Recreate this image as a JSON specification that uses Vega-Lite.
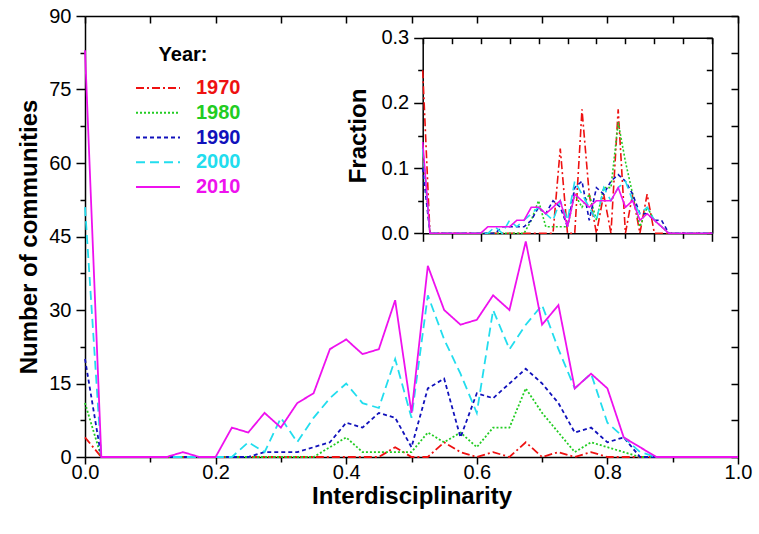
{
"$schema": "https://vega.github.io/schema/vega-lite/v6.json",
"width": 653, "height": 441,
"autosize": {"type": "none"},
"padding": {"left": 85, "top": 16, "right": 21, "bottom": 77},
"background": "white",
"config": {
  "view": {"stroke": null},
  "font": "Liberation Sans",
  "axis": {"domainColor": "black", "tickColor": "black", "labelColor": "black", "titleColor": "black", "grid": false, "domainWidth": 1.5, "tickWidth": 1.5, "labelFont": "Liberation Sans", "titleFont": "Liberation Sans", "labelFlush": false, "labelOverlap": false}
},
"datasets": {"d": [
{"x":0,"year":"1970","n":4,"f":0.25},{"x":0.025,"year":"1970","n":0,"f":0},{"x":0.05,"year":"1970","n":0,"f":0},{"x":0.075,"year":"1970","n":0,"f":0},{"x":0.1,"year":"1970","n":0,"f":0},{"x":0.125,"year":"1970","n":0,"f":0},{"x":0.15,"year":"1970","n":0,"f":0},{"x":0.175,"year":"1970","n":0,"f":0},{"x":0.2,"year":"1970","n":0,"f":0},{"x":0.225,"year":"1970","n":0,"f":0},{"x":0.25,"year":"1970","n":0,"f":0},{"x":0.275,"year":"1970","n":0,"f":0},{"x":0.3,"year":"1970","n":0,"f":0},{"x":0.325,"year":"1970","n":0,"f":0},{"x":0.35,"year":"1970","n":0,"f":0},{"x":0.375,"year":"1970","n":0,"f":0},{"x":0.4,"year":"1970","n":0,"f":0},{"x":0.425,"year":"1970","n":0,"f":0},{"x":0.45,"year":"1970","n":0,"f":0},{"x":0.475,"year":"1970","n":2,"f":0.13},{"x":0.5,"year":"1970","n":0,"f":0},{"x":0.525,"year":"1970","n":0,"f":0},{"x":0.55,"year":"1970","n":3,"f":0.19},{"x":0.575,"year":"1970","n":1,"f":0.06},{"x":0.6,"year":"1970","n":0,"f":0},{"x":0.625,"year":"1970","n":1,"f":0.06},{"x":0.65,"year":"1970","n":0,"f":0},{"x":0.675,"year":"1970","n":3,"f":0.19},{"x":0.7,"year":"1970","n":0,"f":0},{"x":0.725,"year":"1970","n":1,"f":0.06},{"x":0.75,"year":"1970","n":0,"f":0},{"x":0.775,"year":"1970","n":1,"f":0.06},{"x":0.8,"year":"1970","n":0,"f":0},{"x":0.825,"year":"1970","n":0,"f":0},{"x":0.85,"year":"1970","n":0,"f":0},{"x":0.875,"year":"1970","n":0,"f":0},{"x":0.9,"year":"1970","n":0,"f":0},{"x":0.925,"year":"1970","n":0,"f":0},{"x":0.95,"year":"1970","n":0,"f":0},{"x":0.975,"year":"1970","n":0,"f":0},{"x":1,"year":"1970","n":0,"f":0},
{"x":0,"year":"1980","n":11,"f":0.13},{"x":0.025,"year":"1980","n":0,"f":0},{"x":0.05,"year":"1980","n":0,"f":0},{"x":0.075,"year":"1980","n":0,"f":0},{"x":0.1,"year":"1980","n":0,"f":0},{"x":0.125,"year":"1980","n":0,"f":0},{"x":0.15,"year":"1980","n":0,"f":0},{"x":0.175,"year":"1980","n":0,"f":0},{"x":0.2,"year":"1980","n":0,"f":0},{"x":0.225,"year":"1980","n":0,"f":0},{"x":0.25,"year":"1980","n":0,"f":0},{"x":0.275,"year":"1980","n":0,"f":0},{"x":0.3,"year":"1980","n":0,"f":0},{"x":0.325,"year":"1980","n":0,"f":0},{"x":0.35,"year":"1980","n":0,"f":0},{"x":0.375,"year":"1980","n":2,"f":0.02},{"x":0.4,"year":"1980","n":4,"f":0.05},{"x":0.425,"year":"1980","n":1,"f":0.01},{"x":0.45,"year":"1980","n":1,"f":0.01},{"x":0.475,"year":"1980","n":1,"f":0.01},{"x":0.5,"year":"1980","n":1,"f":0.01},{"x":0.525,"year":"1980","n":5,"f":0.06},{"x":0.55,"year":"1980","n":3,"f":0.04},{"x":0.575,"year":"1980","n":5,"f":0.06},{"x":0.6,"year":"1980","n":2,"f":0.02},{"x":0.625,"year":"1980","n":6,"f":0.07},{"x":0.65,"year":"1980","n":6,"f":0.07},{"x":0.675,"year":"1980","n":14,"f":0.17},{"x":0.7,"year":"1980","n":9,"f":0.11},{"x":0.725,"year":"1980","n":5,"f":0.06},{"x":0.75,"year":"1980","n":1,"f":0.01},{"x":0.775,"year":"1980","n":3,"f":0.04},{"x":0.8,"year":"1980","n":2,"f":0.02},{"x":0.825,"year":"1980","n":1,"f":0.01},{"x":0.85,"year":"1980","n":0,"f":0},{"x":0.875,"year":"1980","n":0,"f":0},{"x":0.9,"year":"1980","n":0,"f":0},{"x":0.925,"year":"1980","n":0,"f":0},{"x":0.95,"year":"1980","n":0,"f":0},{"x":0.975,"year":"1980","n":0,"f":0},{"x":1,"year":"1980","n":0,"f":0},
{"x":0,"year":"1990","n":20,"f":0.10},{"x":0.025,"year":"1990","n":0,"f":0},{"x":0.05,"year":"1990","n":0,"f":0},{"x":0.075,"year":"1990","n":0,"f":0},{"x":0.1,"year":"1990","n":0,"f":0},{"x":0.125,"year":"1990","n":0,"f":0},{"x":0.15,"year":"1990","n":0,"f":0},{"x":0.175,"year":"1990","n":0,"f":0},{"x":0.2,"year":"1990","n":0,"f":0},{"x":0.225,"year":"1990","n":0,"f":0},{"x":0.25,"year":"1990","n":0,"f":0},{"x":0.275,"year":"1990","n":1,"f":0.01},{"x":0.3,"year":"1990","n":1,"f":0.01},{"x":0.325,"year":"1990","n":1,"f":0.01},{"x":0.35,"year":"1990","n":2,"f":0.01},{"x":0.375,"year":"1990","n":3,"f":0.02},{"x":0.4,"year":"1990","n":7,"f":0.04},{"x":0.425,"year":"1990","n":6,"f":0.03},{"x":0.45,"year":"1990","n":9,"f":0.05},{"x":0.475,"year":"1990","n":8,"f":0.04},{"x":0.5,"year":"1990","n":2,"f":0.01},{"x":0.525,"year":"1990","n":14,"f":0.07},{"x":0.55,"year":"1990","n":16,"f":0.08},{"x":0.575,"year":"1990","n":4,"f":0.02},{"x":0.6,"year":"1990","n":13,"f":0.07},{"x":0.625,"year":"1990","n":12,"f":0.06},{"x":0.65,"year":"1990","n":15,"f":0.08},{"x":0.675,"year":"1990","n":18,"f":0.09},{"x":0.7,"year":"1990","n":15,"f":0.08},{"x":0.725,"year":"1990","n":11,"f":0.06},{"x":0.75,"year":"1990","n":5,"f":0.03},{"x":0.775,"year":"1990","n":6,"f":0.03},{"x":0.8,"year":"1990","n":3,"f":0.02},{"x":0.825,"year":"1990","n":4,"f":0.02},{"x":0.85,"year":"1990","n":0,"f":0},{"x":0.875,"year":"1990","n":0,"f":0},{"x":0.9,"year":"1990","n":0,"f":0},{"x":0.925,"year":"1990","n":0,"f":0},{"x":0.95,"year":"1990","n":0,"f":0},{"x":0.975,"year":"1990","n":0,"f":0},{"x":1,"year":"1990","n":0,"f":0},
{"x":0,"year":"2000","n":51,"f":0.13},{"x":0.025,"year":"2000","n":0,"f":0},{"x":0.05,"year":"2000","n":0,"f":0},{"x":0.075,"year":"2000","n":0,"f":0},{"x":0.1,"year":"2000","n":0,"f":0},{"x":0.125,"year":"2000","n":0,"f":0},{"x":0.15,"year":"2000","n":0,"f":0},{"x":0.175,"year":"2000","n":0,"f":0},{"x":0.2,"year":"2000","n":0,"f":0},{"x":0.225,"year":"2000","n":0,"f":0},{"x":0.25,"year":"2000","n":3,"f":0.01},{"x":0.275,"year":"2000","n":1,"f":0},{"x":0.3,"year":"2000","n":8,"f":0.02},{"x":0.325,"year":"2000","n":3,"f":0.01},{"x":0.35,"year":"2000","n":8,"f":0.02},{"x":0.375,"year":"2000","n":12,"f":0.03},{"x":0.4,"year":"2000","n":15,"f":0.04},{"x":0.425,"year":"2000","n":11,"f":0.03},{"x":0.45,"year":"2000","n":10,"f":0.02},{"x":0.475,"year":"2000","n":20,"f":0.05},{"x":0.5,"year":"2000","n":8,"f":0.02},{"x":0.525,"year":"2000","n":33,"f":0.08},{"x":0.55,"year":"2000","n":24,"f":0.06},{"x":0.575,"year":"2000","n":17,"f":0.04},{"x":0.6,"year":"2000","n":9,"f":0.02},{"x":0.625,"year":"2000","n":30,"f":0.07},{"x":0.65,"year":"2000","n":22,"f":0.05},{"x":0.675,"year":"2000","n":27,"f":0.07},{"x":0.7,"year":"2000","n":31,"f":0.08},{"x":0.725,"year":"2000","n":22,"f":0.05},{"x":0.75,"year":"2000","n":14,"f":0.03},{"x":0.775,"year":"2000","n":17,"f":0.04},{"x":0.8,"year":"2000","n":7,"f":0.02},{"x":0.825,"year":"2000","n":4,"f":0.01},{"x":0.85,"year":"2000","n":1,"f":0},{"x":0.875,"year":"2000","n":0,"f":0},{"x":0.9,"year":"2000","n":0,"f":0},{"x":0.925,"year":"2000","n":0,"f":0},{"x":0.95,"year":"2000","n":0,"f":0},{"x":0.975,"year":"2000","n":0,"f":0},{"x":1,"year":"2000","n":0,"f":0},
{"x":0,"year":"2010","n":83,"f":0.14},{"x":0.025,"year":"2010","n":0,"f":0},{"x":0.05,"year":"2010","n":0,"f":0},{"x":0.075,"year":"2010","n":0,"f":0},{"x":0.1,"year":"2010","n":0,"f":0},{"x":0.125,"year":"2010","n":0,"f":0},{"x":0.15,"year":"2010","n":1,"f":0},{"x":0.175,"year":"2010","n":0,"f":0},{"x":0.2,"year":"2010","n":0,"f":0},{"x":0.225,"year":"2010","n":6,"f":0.01},{"x":0.25,"year":"2010","n":5,"f":0.01},{"x":0.275,"year":"2010","n":9,"f":0.01},{"x":0.3,"year":"2010","n":6,"f":0.01},{"x":0.325,"year":"2010","n":11,"f":0.02},{"x":0.35,"year":"2010","n":13,"f":0.02},{"x":0.375,"year":"2010","n":22,"f":0.04},{"x":0.4,"year":"2010","n":24,"f":0.04},{"x":0.425,"year":"2010","n":21,"f":0.03},{"x":0.45,"year":"2010","n":22,"f":0.04},{"x":0.475,"year":"2010","n":32,"f":0.05},{"x":0.5,"year":"2010","n":9,"f":0.01},{"x":0.525,"year":"2010","n":39,"f":0.06},{"x":0.55,"year":"2010","n":30,"f":0.05},{"x":0.575,"year":"2010","n":27,"f":0.04},{"x":0.6,"year":"2010","n":28,"f":0.05},{"x":0.625,"year":"2010","n":33,"f":0.05},{"x":0.65,"year":"2010","n":30,"f":0.05},{"x":0.675,"year":"2010","n":44,"f":0.07},{"x":0.7,"year":"2010","n":27,"f":0.04},{"x":0.725,"year":"2010","n":31,"f":0.05},{"x":0.75,"year":"2010","n":14,"f":0.02},{"x":0.775,"year":"2010","n":17,"f":0.03},{"x":0.8,"year":"2010","n":14,"f":0.02},{"x":0.825,"year":"2010","n":4,"f":0.01},{"x":0.85,"year":"2010","n":2,"f":0},{"x":0.875,"year":"2010","n":0,"f":0},{"x":0.9,"year":"2010","n":0,"f":0},{"x":0.925,"year":"2010","n":0,"f":0},{"x":0.95,"year":"2010","n":0,"f":0},{"x":0.975,"year":"2010","n":0,"f":0},{"x":1,"year":"2010","n":0,"f":0}
]},
"data": {"name": "d"},
"resolve": {"scale": {"x": "independent", "y": "independent", "color": "shared", "strokeDash": "shared"}, "axis": {"x": "independent", "y": "independent"}},
"layer": [
  {
    "mark": {"type": "line", "strokeWidth": 1.8, "clip": false},
    "encoding": {
      "x": {"field": "x", "type": "quantitative", "scale": {"domain": [0, 1], "nice": false},
            "axis": {"orient": "bottom", "values": [0, 0.2, 0.4, 0.6, 0.8, 1], "format": ".1f", "tickSize": 7, "labelFontSize": 20, "labelPadding": -2, "title": "Interdisciplinarity", "titleFontSize": 24, "titleFontWeight": "bold", "titlePadding": 2}},
      "y": {"field": "n", "type": "quantitative", "scale": {"domain": [0, 90], "nice": false},
            "axis": {"orient": "left", "values": [0, 15, 30, 45, 60, 75, 90], "tickSize": 9, "labelFontSize": 20, "labelPadding": 5, "title": "Number of communities", "titleFontSize": 24, "titleFontWeight": "bold", "titlePadding": 7}},
      "color": {"field": "year", "type": "nominal",
            "scale": {"domain": ["1970", "1980", "1990", "2000", "2010"], "range": ["#EE1111", "#22CC22", "#1111BB", "#22DDEE", "#EE11EE"]},
            "legend": {"orient": "none", "legendX": 41, "legendY": 29, "title": "Year:", "titleFontSize": 20, "titleFontWeight": "bold", "titleColor": "black", "titleAnchor": "middle", "titlePadding": 13, "labelFontSize": 20, "labelFontWeight": "bold", "labelOffset": 50, "rowPadding": 4.75, "padding": 0, "symbolType": "M0,0H8", "symbolSize": 121, "symbolStrokeWidth": 1.8, "labelFont": "Liberation Sans", "titleFont": "Liberation Sans", "encode": {"labels": {"update": {"fill": {"scale": "color", "field": "value"}}}}}},
      "strokeDash": {"field": "year", "type": "nominal",
            "scale": {"domain": ["1970", "1980", "1990", "2000", "2010"], "range": [[8, 3, 2, 3], [2, 2], [4, 3], [9, 5], [1, 0]]},
            "legend": {"orient": "none", "legendX": 41, "legendY": 29, "title": "Year:", "titleFontSize": 20, "titleFontWeight": "bold", "titleColor": "black", "titleAnchor": "middle", "titlePadding": 13, "labelFontSize": 20, "labelFontWeight": "bold", "labelOffset": 50, "rowPadding": 4.75, "padding": 0, "symbolType": "M0,0H8", "symbolSize": 121, "symbolStrokeWidth": 1.8, "labelFont": "Liberation Sans", "titleFont": "Liberation Sans", "encode": {"labels": {"update": {"fill": {"scale": "color", "field": "value"}}}}}}
    }
  },
  {
    "mark": {"type": "point", "opacity": 0},
    "encoding": {
      "x": {"field": "x", "type": "quantitative", "scale": {"domain": [0, 1], "nice": false},
            "axis": {"orient": "bottom", "values": [0.1, 0.3, 0.5, 0.7, 0.9], "labels": false, "tickSize": 5, "domain": false, "title": null}},
      "y": {"field": "n", "type": "quantitative", "scale": {"domain": [0, 90], "nice": false},
            "axis": {"orient": "left", "values": [7.5, 22.5, 37.5, 52.5, 67.5, 82.5], "labels": false, "tickSize": 5, "domain": false, "title": null}}
    }
  },
  {
    "mark": {"type": "point", "opacity": 0},
    "encoding": {
      "x": {"field": "x", "type": "quantitative", "scale": {"domain": [0, 1], "nice": false},
            "axis": {"orient": "top", "values": [0, 0.1, 0.2, 0.3, 0.4, 0.5, 0.6, 0.7, 0.8, 0.9, 1], "labels": false, "tickSize": -7, "domain": true, "title": null}},
      "y": {"field": "n", "type": "quantitative", "scale": {"domain": [0, 90], "nice": false},
            "axis": {"orient": "right", "values": [0, 7.5, 15, 22.5, 30, 37.5, 45, 52.5, 60, 67.5, 75, 82.5, 90], "labels": false, "tickSize": -7, "domain": true, "title": null}}
    }
  },
  {
    "mark": {"type": "line", "strokeWidth": 1.6, "clip": false},
    "encoding": {
      "x": {"field": "x", "type": "quantitative", "scale": {"domain": [0, 1], "range": [337.7, 627.3], "nice": false},
            "axis": {"orient": "bottom", "offset": -223.7, "values": [0, 0.2, 0.4, 0.6, 0.8, 1], "labels": false, "tickSize": 8, "title": null}},
      "y": {"field": "f", "type": "quantitative", "scale": {"domain": [0, 0.3], "range": [217.3, 21.7], "nice": false},
            "axis": {"orient": "left", "offset": -337.7, "values": [0, 0.1, 0.2, 0.3], "format": ".1f", "tickSize": 9, "labelFontSize": 20, "labelPadding": 5, "title": "Fraction", "titleFontSize": 24, "titleFontWeight": "bold", "titlePadding": 10}},
      "color": {"field": "year", "type": "nominal", "legend": null},
      "strokeDash": {"field": "year", "type": "nominal", "legend": null}
    }
  },
  {
    "mark": {"type": "point", "opacity": 0},
    "encoding": {
      "x": {"field": "x", "type": "quantitative", "scale": {"domain": [0, 1], "range": [337.7, 627.3], "nice": false},
            "axis": {"orient": "bottom", "offset": -223.7, "values": [0.1, 0.3, 0.5, 0.7, 0.9], "labels": false, "tickSize": 5, "domain": false, "title": null}},
      "y": {"field": "f", "type": "quantitative", "scale": {"domain": [0, 0.3], "range": [217.3, 21.7], "nice": false},
            "axis": {"orient": "left", "offset": -337.7, "values": [0.05, 0.15, 0.25], "labels": false, "tickSize": 5, "domain": false, "title": null}}
    }
  },
  {
    "mark": {"type": "point", "opacity": 0},
    "encoding": {
      "x": {"field": "x", "type": "quantitative", "scale": {"domain": [0, 1], "range": [337.7, 627.3], "nice": false},
            "axis": {"orient": "top", "offset": -21.7, "values": [0, 0.1, 0.2, 0.3, 0.4, 0.5, 0.6, 0.7, 0.8, 0.9, 1], "labels": false, "tickSize": -6, "domain": true, "title": null}},
      "y": {"field": "f", "type": "quantitative", "scale": {"domain": [0, 0.3], "range": [217.3, 21.7], "nice": false},
            "axis": {"orient": "right", "offset": -25.7, "values": [0, 0.05, 0.1, 0.15, 0.2, 0.25, 0.3], "labels": false, "tickSize": -6, "domain": true, "title": null}}
    }
  }
]
}
